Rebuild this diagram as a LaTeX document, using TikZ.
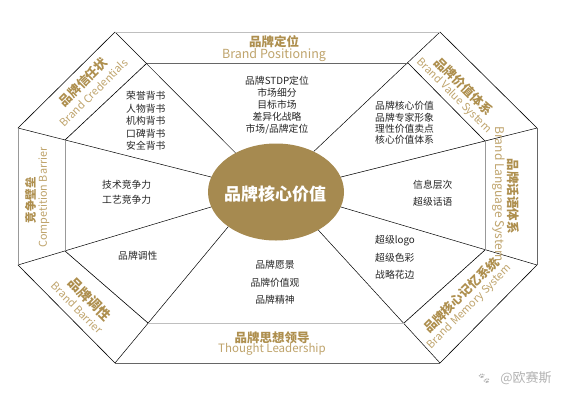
\documentclass[tikz,border=0pt]{standalone}
\usepackage{fontspec}
\newfontfamily\cjk{Noto Sans CJK SC}
\newfontfamily\emojifont{Noto Emoji}
\usetikzlibrary{shapes.geometric,calc}
\definecolor{gold}{HTML}{AE8F4E}
\definecolor{goldlt}{HTML}{BFA46C}
\definecolor{core}{HTML}{A68A50}
\begin{document}
\begin{tikzpicture}[x=1pt,y=-1pt,
  titlech/.style={font=\cjk\bfseries\fontsize{12.5}{14}\selectfont, text=gold, inner sep=0pt},
  titleen/.style={font=\cjk\fontsize{10.8}{13}\selectfont, text=goldlt, inner sep=0pt},
  item/.style={font=\cjk\fontsize{9.8}{12}\selectfont, text=black!85, inner sep=0pt},
  edgeline/.style={line width=0.6pt, black},
  spoke/.style={line width=0.5pt, black},
  bandlight/.style={line width=0.7pt, black!25},
  bandmid/.style={line width=0.7pt, black!40},
  banddark/.style={line width=1pt, black!60}]
\useasboundingbox (0,0) rectangle (564,400);
\fill[white] (0,0) rectangle (564,400);
% outer octagon
\coordinate (O1) at (115,32);
\coordinate (O2) at (440,32);
\coordinate (O3) at (537,128);
\coordinate (O4) at (537,265);
\coordinate (O5) at (440,363);
\coordinate (O6) at (115,363);
\coordinate (O7) at (18,265);
\coordinate (O8) at (18,128);
% inner octagon
\coordinate (I1) at (147,63);
\coordinate (I2) at (408,63);
\coordinate (I3) at (485,141);
\coordinate (I4) at (485,250);
\coordinate (I5) at (404,323);
\coordinate (I6) at (148,323);
\coordinate (I7) at (65,251);
\coordinate (I8) at (65,140);
% centre
\node[ellipse, fill=core, minimum width=136pt, minimum height=97pt, inner sep=0pt] (ell) at (276,192) {};
\node[font=\cjk\bfseries\fontsize{17}{20}\selectfont, text=white, inner sep=0pt] (coretxt) at (275,194) {品牌核心价值};
% spokes
\draw[spoke] (O1) -- (ell.136);
\draw[spoke] (O2) -- (ell.47);
\draw[spoke] (O3) -- (ell.13);
\draw[spoke] (O4) -- (ell.-13);
\draw[spoke] (O5) -- (ell.-42);
\draw[spoke] (O6) -- (ell.216);
\draw[spoke] (O7) -- (ell.193);
\draw[spoke] (O8) -- (ell.167);
% bands
\draw[bandlight] (O1) -- (O2);
\draw[banddark] (I1) -- (I2);
\draw[bandlight] (I6) -- (I5);
\draw[banddark] (O6) -- (O5);
\draw[bandmid] (O8) -- (O7);
\draw[bandmid] (I8) -- (I7);
\draw[bandmid] (I3) -- (I4);
\draw[banddark] (O3) -- (O4);
\draw[edgeline] (O1) -- (O8);
\draw[edgeline] (I1) -- (I8);
\draw[edgeline] (O2) -- (O3);
\draw[edgeline] (I2) -- (I3);
\draw[edgeline] (O4) -- (O5);
\draw[edgeline] (I4) -- (I5);
\draw[edgeline] (O6) -- (O7);
\draw[edgeline] (I6) -- (I7);
% band labels
\node[titlech] (tTop) at (274,42) {品牌定位};
\node[titleen, font=\cjk\fontsize{12.5}{14}\selectfont] (eTop) at (274,55) {Brand Positioning};
\node[titlech] (tBot) at (272,337.5) {品牌思想领导};
\node[titleen, font=\cjk\fontsize{11.5}{14}\selectfont] (eBot) at (272,349.5) {Thought Leadership};
\node[titlech, rotate=45] (tUL) at (83.2,82.2) {品牌信任状};
\node[titleen, rotate=45] (eUL) at (93.8,92.8) {Brand Credentials};
\node[titlech, rotate=-45] (tUR) at (463.8,86.2) {品牌价值体系};
\node[titleen, rotate=-45] (eUR) at (454.2,95.8) {Brand Value System};
\node[titlech, rotate=90, font=\cjk\bfseries\fontsize{11.5}{14}\selectfont] (tL) at (30.5,200) {竞争壁垒};
\node[titleen, rotate=90] (eL) at (44,197.5) {Competition Barrier};
\node[titlech, rotate=-90] (tR) at (513.5,196) {品牌话语体系};
\node[titleen, rotate=-90, font=\cjk\fontsize{12}{14}\selectfont] (eR) at (498.5,194) {Brand Language System};
\node[titlech, rotate=-45, font=\cjk\bfseries\fontsize{13.5}{14}\selectfont] (tLL) at (89.8,299.2) {品牌调性};
\node[titleen, rotate=-45] (eLL) at (77.2,307.8) {Brand Barrier};
\node[titlech, rotate=45] (tLR) at (461.2,295.2) {品牌核心记忆系统};
\node[titleen, rotate=45] (eLR) at (469.8,306.8) {Brand Memory System};
% lists
\node[item, align=center] (lTop) at (277,105) {品牌STDP定位\\市场细分\\目标市场\\差异化战略\\市场/品牌定位};
\node[item, align=left, anchor=west, font=\cjk\fontsize{9.8}{12.4}\selectfont] (lUL) at (126,121) {荣誉背书\\人物背书\\机构背书\\口碑背书\\安全背书};
\node[item, align=left, anchor=west, font=\cjk\fontsize{9.8}{11.3}\selectfont] (lUR) at (375,123) {品牌核心价值\\品牌专家形象\\理性价值卖点\\核心价值体系};
\node[item, align=left, anchor=west, font=\cjk\fontsize{9.8}{15}\selectfont] (lL) at (102,192.5) {技术竞争力\\工艺竞争力};
\node[item, anchor=west] (lLL) at (118,256) {品牌调性};
\node[item, align=center, font=\cjk\fontsize{9.8}{17.5}\selectfont] (lBot) at (275,282.5) {品牌愿景\\品牌价值观\\品牌精神};
\node[item, align=left, anchor=west, font=\cjk\fontsize{9.8}{17}\selectfont] (lR) at (413,193.5) {信息层次\\超级话语};
\node[item, align=left, anchor=west, font=\cjk\fontsize{9.8}{17.5}\selectfont] (lLR) at (375,257.5) {超级logo\\超级色彩\\战略花边};
% watermark
\node[font=\emojifont\fontsize{11}{12}\selectfont, text=black!30, inner sep=0pt] (paw) at (484,379) {🐾};
\node[font=\cjk\fontsize{13}{14}\selectfont, text=black!30, inner sep=0pt] (wm) at (526,378) {@欧赛斯};
\end{tikzpicture}
\end{document}
